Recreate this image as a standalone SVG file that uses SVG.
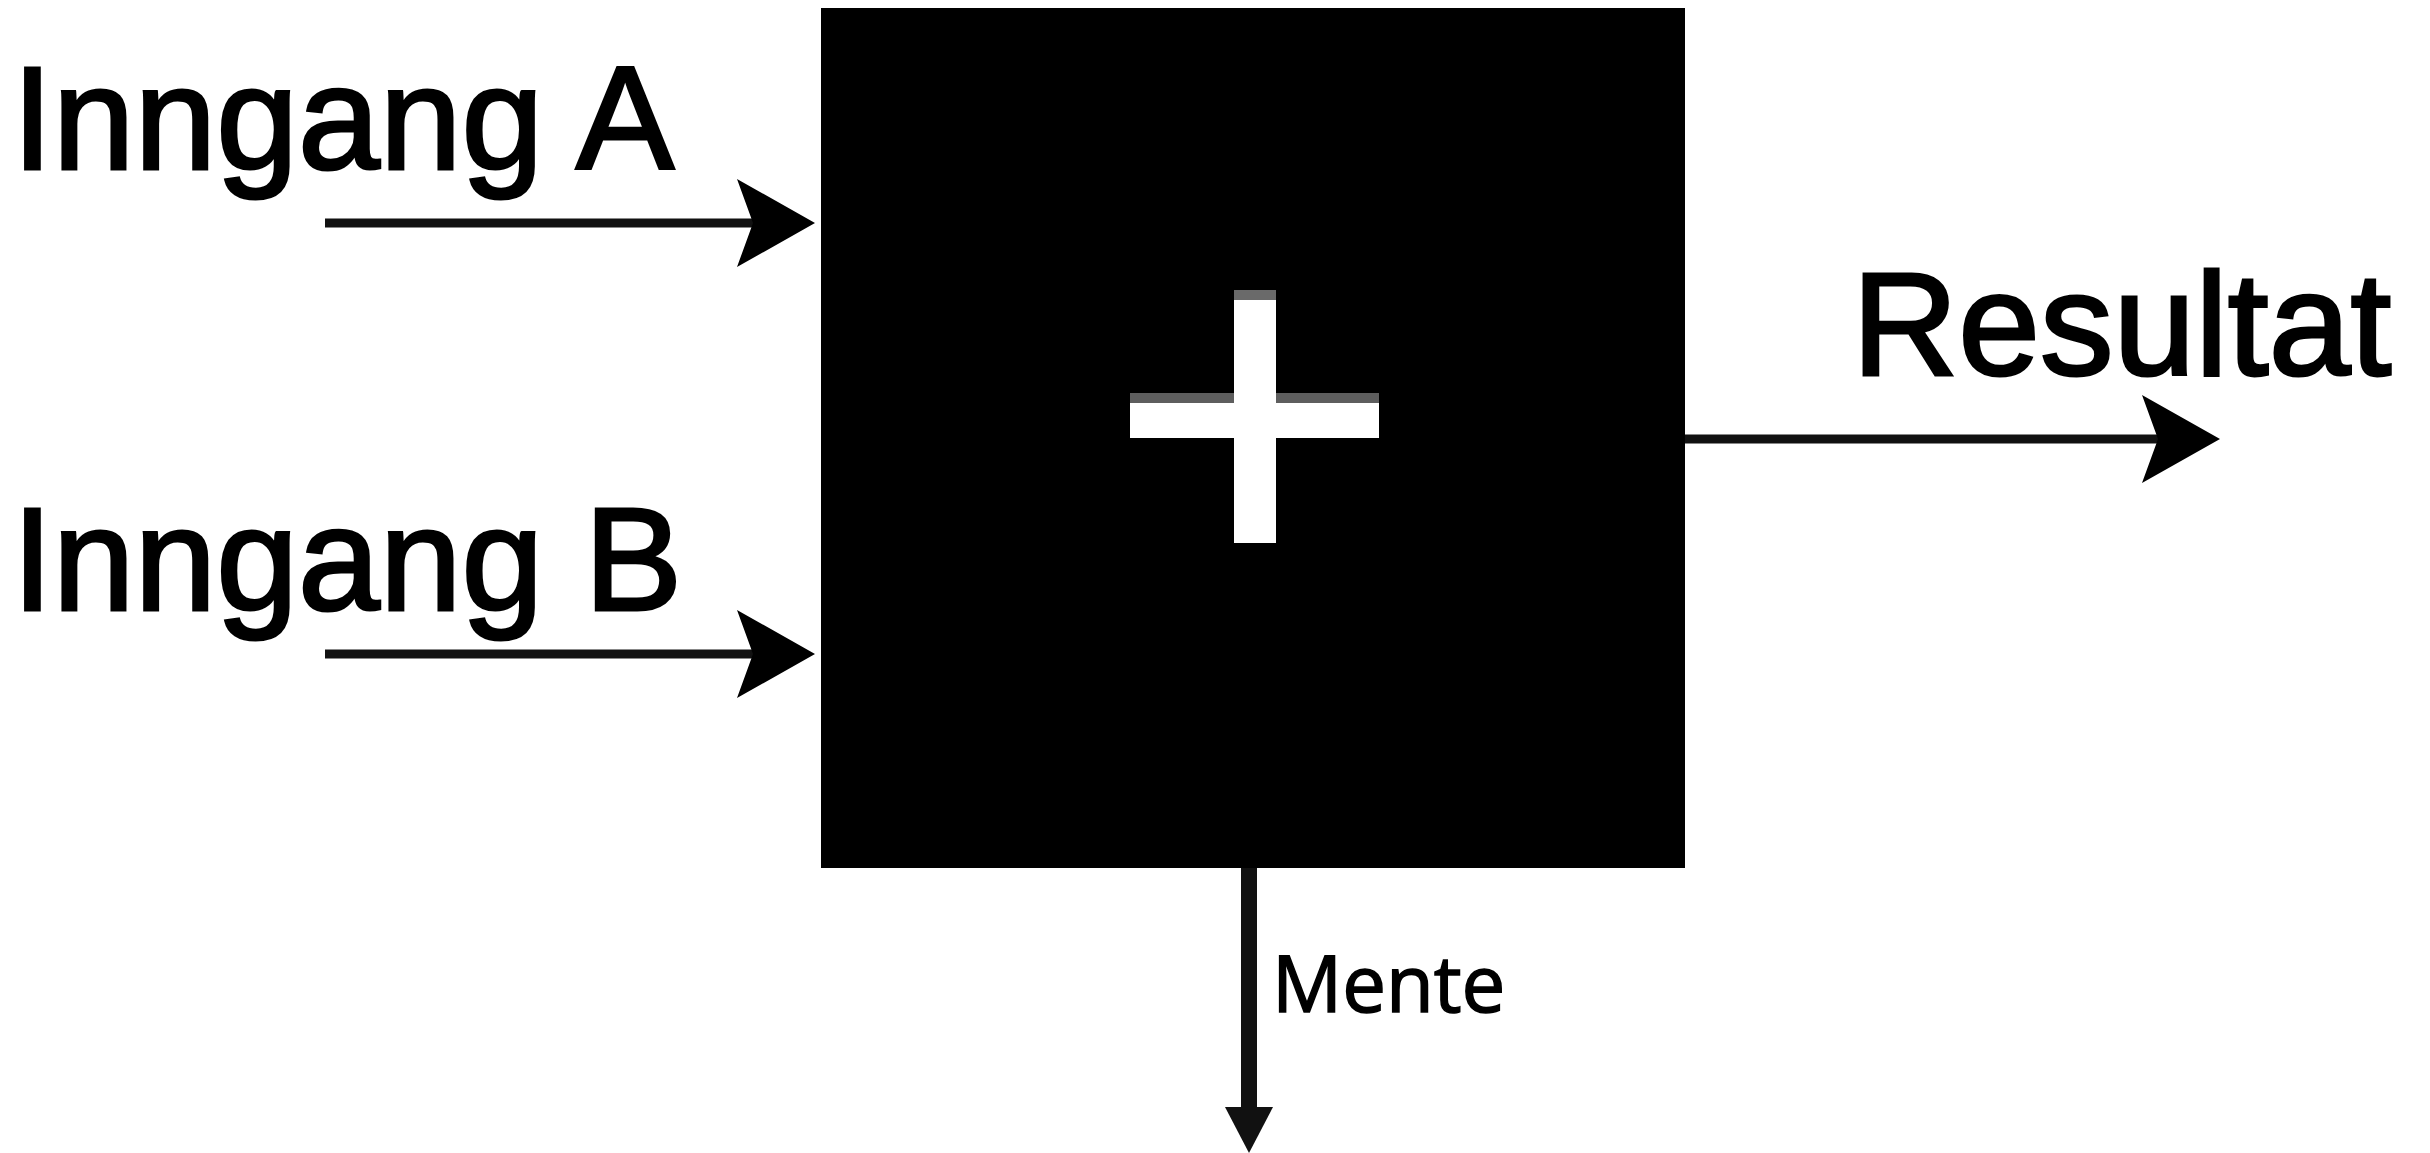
<svg xmlns="http://www.w3.org/2000/svg" width="2430" height="1153" viewBox="0 0 2430 1153">
  <style>
    .label { font-family: "Liberation Sans", Arial, sans-serif; font-size: 147px; fill: #000; stroke: #000; stroke-width: 3; }
    .small { font-family: "Open Sans", Lato, sans-serif; font-size: 78px; fill: #000; stroke: #000; stroke-width: 1.5; }
    .wire { stroke: #111; stroke-width: 9; fill: none; }
    .carry { stroke: #111; stroke-width: 16; fill: none; }
  </style>
  <defs>
    <!-- barbed arrowhead for the input/output lines -->
    <marker id="barb" markerUnits="userSpaceOnUse" markerWidth="80" markerHeight="90" viewBox="0 0 80 90" refX="53" refY="44" orient="auto">
      <path d="M0,0 L78,44 L0,88 L16,44 Z" fill="#000"/>
    </marker>
    <!-- plain triangle for the carry line -->
    <marker id="tri" markerUnits="userSpaceOnUse" markerWidth="48" markerHeight="50" viewBox="0 0 48 50" refX="3" refY="24" orient="auto">
      <path d="M0,0 L46,24 L0,48 Z" fill="#111"/>
    </marker>
  </defs>
  <rect width="2430" height="1153" fill="#fff"/>

  <!-- adder block -->
  <g id="adder">
    <rect x="821" y="8" width="864" height="860" fill="#000"/>
    <rect x="1234" y="290" width="42" height="253" fill="#fff"/>
    <rect x="1234" y="290" width="42" height="10" fill="#6a6a6a"/>
    <rect x="1130" y="393" width="249" height="45" fill="#fff"/>
    <rect x="1130" y="393" width="104" height="10" fill="#5e5e5e"/>
    <rect x="1276" y="393" width="103" height="10" fill="#5e5e5e"/>
  </g>

  <g id="input-a">
    <text class="label" x="12" y="169">Inngang A</text>
  </g>
  <g id="input-b">
    <text class="label" x="12" y="610">Inngang B</text>
  </g>
  <g id="result">
    <text class="label" x="1852" y="375">Resultat</text>
  </g>
  <g id="carry">
    <text class="small" x="1272" y="1012">Mente</text>
  </g>

  <!-- connectors -->
  <g id="connectors">
    <line class="wire" x1="325" y1="223" x2="790" y2="223" marker-end="url(#barb)"/>
    <line class="wire" x1="325" y1="654" x2="790" y2="654" marker-end="url(#barb)"/>
    <line class="wire" x1="1685" y1="439" x2="2195" y2="439" marker-end="url(#barb)"/>
    <line class="carry" x1="1249" y1="868" x2="1249" y2="1110" marker-end="url(#tri)"/>
  </g>
</svg>
